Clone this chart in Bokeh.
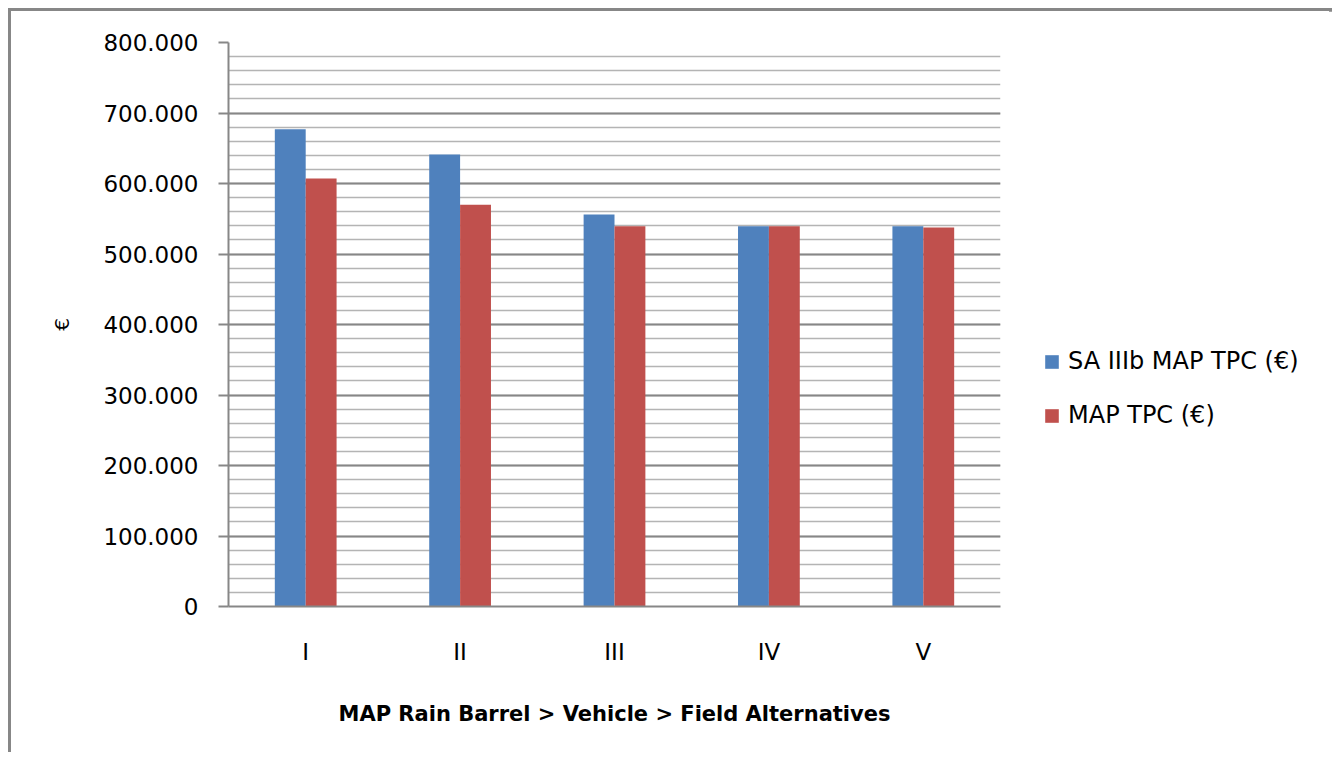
from bokeh.plotting import figure
from bokeh.models import (FactorRange, Range1d, SingleIntervalTicker, CustomJSTickFormatter,
                          Legend, LegendItem, ColumnDataSource)
from bokeh.transform import dodge
from bokeh.embed import file_html
from bokeh.resources import INLINE

categories = ["I", "II", "III", "IV", "V"]
sa_iiib_map_tpc = [677000, 641000, 556000, 539500, 539500]
map_tpc = [607000, 570000, 539500, 539500, 537500]
series_names = ["SA IIIb MAP TPC (€)", "MAP TPC (€)"]
colors = ["#4F81BD", "#C0504D"]

src = ColumnDataSource(dict(cat=categories, a=sa_iiib_map_tpc, b=map_tpc))

FONT = "DejaVu Sans"
p = figure(x_range=FactorRange(*categories, range_padding=0), y_range=Range1d(0, 800000),
           frame_width=772, frame_height=564, output_backend="svg", toolbar_location=None,
           min_border_left=217, min_border_right=329,
           min_border_top=31, min_border_bottom=146)
p.styles = {"border-top": "3px solid #878787", "border-left": "3px solid #878787",
            "border-right": "3px solid #878787", "width": "1324px",
            "max-width": "1324px", "box-sizing": "border-box",
            "margin-left": "8px", "margin-top": "8px"}
p.outline_line_color = None

r1 = p.vbar(x=dodge("cat", -0.1, range=p.x_range), top="a", width=0.2, source=src,
            color=colors[0], line_color=None)
r2 = p.vbar(x=dodge("cat", 0.1, range=p.x_range), top="b", width=0.2, source=src,
            color=colors[1], line_color=None)

p.xgrid.grid_line_color = None
p.yaxis.ticker = SingleIntervalTicker(interval=100000, num_minor_ticks=5)
p.ygrid.grid_line_color = "#878787"
p.ygrid.grid_line_width = 2
p.ygrid.minor_grid_line_color = "#b4b4b4"
p.ygrid.minor_grid_line_width = 1.5

p.yaxis.formatter = CustomJSTickFormatter(
    code="return tick.toFixed(0).replace(/\\B(?=(\\d{3})+(?!\\d))/g, '.');")
for ax in (p.xaxis, p.yaxis):
    ax.axis_line_color = "#878787"
    ax.axis_line_width = 2
    ax.major_label_text_font = FONT
    ax.major_label_text_font_size = "23px"
    ax.major_label_text_color = "#000000"
    ax.minor_tick_line_color = None
    ax.axis_label_text_font = FONT
    ax.axis_label_text_color = "#000000"
p.yaxis.major_tick_line_color = "#878787"
p.yaxis.major_tick_line_width = 2
p.yaxis.major_tick_out = 10
p.yaxis.major_tick_in = 0
p.yaxis.major_label_standoff = 20
p.yaxis.axis_label = "€"
p.yaxis.axis_label_text_font_size = "20px"
p.yaxis.axis_label_text_font_style = "normal"
p.yaxis.axis_label_standoff = 26

p.xaxis.major_tick_line_color = None
p.xaxis.major_label_standoff = 26
p.xaxis.axis_label = "MAP Rain Barrel > Vehicle > Field Alternatives"
p.xaxis.axis_label_text_font_size = "21px"
p.xaxis.axis_label_text_font_style = "bold"
p.xaxis.axis_label_standoff = 34

legend = Legend(items=[LegendItem(label=series_names[0], renderers=[r1]),
                       LegendItem(label=series_names[1], renderers=[r2])],
                location=(43, 177), orientation="vertical")
legend.glyph_width = 17
legend.glyph_height = 17
legend.label_height = 17
legend.spacing = 26
legend.padding = 0
legend.margin = 0
legend.border_line_color = None
legend.background_fill_alpha = 0
legend.label_text_font = FONT
legend.label_text_font_size = "24px"
legend.label_text_color = "#000000"
legend.label_standoff = 8
p.add_layout(legend, "right")

open("out.html", "w").write(file_html(p, INLINE))
